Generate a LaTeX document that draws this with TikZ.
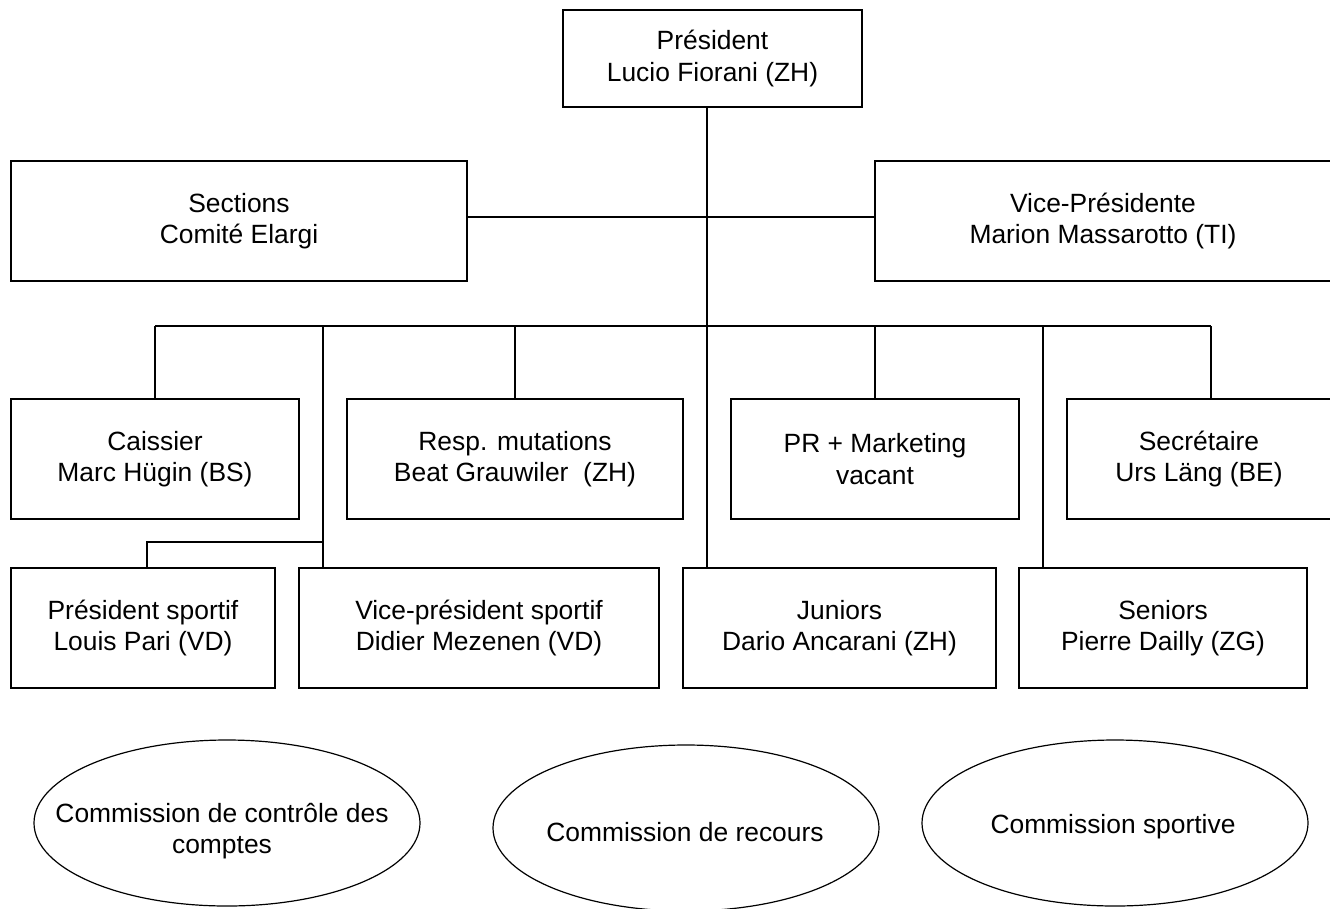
\documentclass[tikz,border=0pt]{standalone}
\usepackage{fontspec}
\setmainfont{Liberation Sans}
\usetikzlibrary{shapes.geometric}
\tikzset{
  orgbox/.style={draw=black, line width=1.4pt, rectangle, inner sep=0pt, align=center,
    minimum height=120pt, font=\fontsize{26.4}{31.5}\selectfont},
  commis/.style={draw=black, line width=1.2pt, ellipse, inner sep=0pt, align=center,
    minimum width=386pt, minimum height=166pt, font=\fontsize{26.4}{31.5}\selectfont},
  link/.style={draw=black, line width=1.4pt}
}
\begin{document}
\begin{tikzpicture}[x=1pt,y=-1pt]
\useasboundingbox (0,0) rectangle (1330,908);
\fill[white] (0,0) rectangle (1330,908);

% top level
\node[orgbox, minimum width=299pt, minimum height=97pt] (pres) at (712.5,58.5) {Président\\Lucio Fiorani (ZH)};
\node[orgbox, minimum width=456pt] (sect) at (239,221) {Sections\\Comité Elargi};
\node[orgbox, minimum width=456pt] (vp) at (1103,221) {Vice-Présidente\\Marion Massarotto (TI)};

% second row
\node[orgbox, minimum width=288pt] (cais) at (155,459) {Caissier\\Marc Hügin (BS)};
\node[orgbox, minimum width=336pt] (resp) at (515,459) {Resp. mutations\\Beat Grauwiler\ \ (ZH)};
\node[orgbox, minimum width=288pt] (pr) at (875,459) {PR + Marketing\\vacant};
\node[orgbox, minimum width=264pt] (secr) at (1199,459) {Secrétaire\\Urs Läng (BE)};

% third row
\node[orgbox, minimum width=264pt] (ps) at (143,628) {Président sportif\\Louis Pari (VD)};
\node[orgbox, minimum width=360pt] (vps) at (479,628) {Vice-président sportif\\Didier Mezenen (VD)};
\node[orgbox, minimum width=313pt] (jun) at (839.5,628) {Juniors\\Dario Ancarani (ZH)};
\node[orgbox, minimum width=288pt] (sen) at (1163,628) {Seniors\\Pierre Dailly (ZG)};

% commissions
\node[commis] (c1) at (227,823) {};
\node[align=center, font=\fontsize{26.4}{31.5}\selectfont] (c1t) at (222,831) {Commission de contrôle des\\comptes};
\node[commis] (c2) at (686,828) {};
\node[font=\fontsize{26.4}{31.5}\selectfont] (c2t) at (685,832) {Commission de recours};
\node[commis] (c3) at (1115,823) {};
\node[font=\fontsize{26.4}{31.5}\selectfont] (c3t) at (1113,827) {Commission sportive};

% bus coordinates
\coordinate (b1) at (155,326);
\coordinate (b2) at (323,326);
\coordinate (b3) at (515,326);
\coordinate (b4) at (707,326);
\coordinate (b5) at (875,326);
\coordinate (b6) at (1043,326);
\coordinate (b7) at (1211,326);
\coordinate (k1) at (323,542);
\coordinate (k2) at (147,542);

% connectors
\draw[link] (b4 |- pres.south) -- (b4 |- jun.north);
\draw[link] ([yshift=4pt]sect.east) -- ([yshift=4pt]vp.west);
\draw[link] (b1) -- (b7);
\draw[link] (b1) -- (b1 |- cais.north);
\draw[link] (b3) -- (b3 |- resp.north);
\draw[link] (b5) -- (b5 |- pr.north);
\draw[link] (b7) -- (b7 |- secr.north);
\draw[link] (b2) -- (b2 |- vps.north);
\draw[link] (b6) -- (b6 |- sen.north);
\draw[link] (k1) -- (k2) -- (k2 |- ps.north);
\end{tikzpicture}
\end{document}
